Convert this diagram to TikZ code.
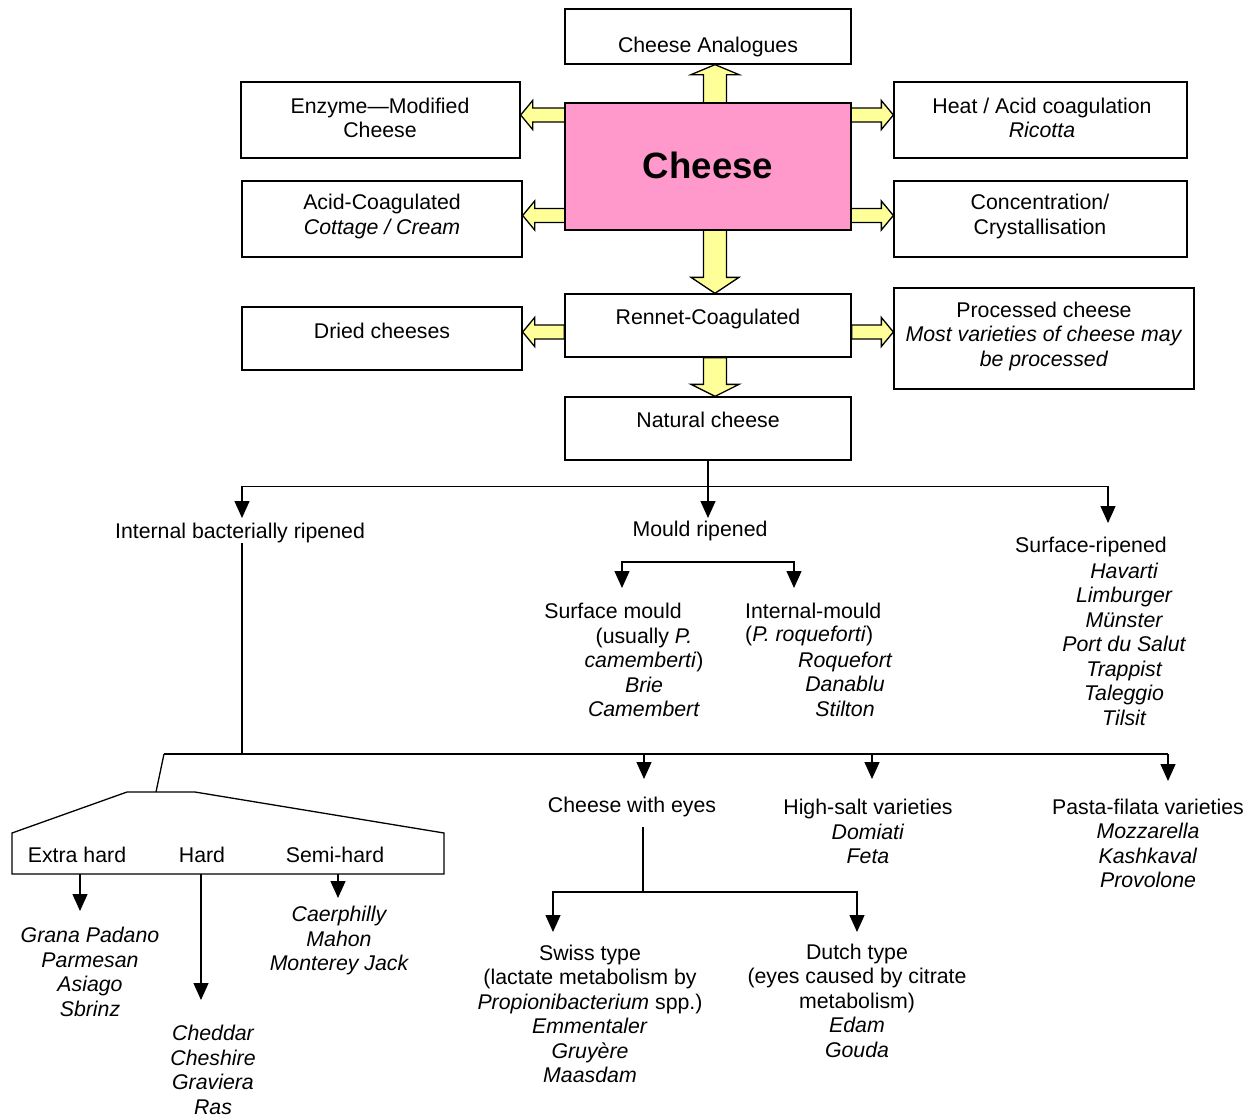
\documentclass[tikz,border=0pt]{standalone}
\usepackage{fontspec}
\setmainfont{Liberation Sans}
\usetikzlibrary{calc,arrows.meta}
\definecolor{ylw}{HTML}{FFFF99}
\definecolor{pnk}{HTML}{FF99CC}
% block arrow: #1 from, #2 to, #3 shaft half width, #4 head half width, #5 head length
\newcommand\blockarr[5]{%
  \path (#1) coordinate (ba-s) (#2) coordinate (ba-t);
  \path ($(ba-t)!#5!(ba-s)$) coordinate (ba-h);
  \draw[yarrow] ($(ba-s)!#3!90:(ba-t)$) -- ($(ba-h)!#3!90:(ba-t)$) -- ($(ba-h)!#4!90:(ba-t)$)
     -- (ba-t) -- ($(ba-h)!#4!-90:(ba-t)$) -- ($(ba-h)!#3!-90:(ba-t)$) -- ($(ba-s)!#3!-90:(ba-t)$) -- cycle;
}
\begin{document}
\begin{tikzpicture}[x=1pt,y=-1pt,
  ln/.style={line width=1.3pt},
  arr/.style={line width=1.3pt,-{Triangle[length=17pt,width=15pt]}},
  box/.style={draw,line width=1.3pt,fill=white,inner sep=0pt},
  txt/.style={inner sep=0pt,align=center,yshift=-2pt,font=\fontsize{21.3}{24.5}\selectfont},
  itxt/.style={txt,font=\fontsize{21.3}{24.5}\selectfont\itshape},
  yarrow/.style={draw,line width=1.3pt,fill=ylw,line join=miter}]
\useasboundingbox (0,0) rectangle (1257,1119);

% ---------- boxes (positions) ----------
\coordinate (ax) at (715,0);
\coordinate (r1) at (0,115);
\coordinate (r2) at (0,215.5);
\coordinate (r3) at (0,332);

\path
  node[box,minimum width=286pt,minimum height=55pt] (ana) at (708,36.5) {}
  node[box,minimum width=279pt,minimum height=76pt] (enz) at (380.5,120) {}
  node[box,minimum width=293pt,minimum height=76pt] (heat) at (1040.5,120) {}
  node[box,minimum width=280pt,minimum height=76pt] (acid) at (382,219) {}
  node[box,minimum width=293pt,minimum height=76pt] (conc) at (1040.5,219) {}
  node[box,minimum width=286pt,minimum height=63pt] (ren) at (708,325.5) {}
  node[box,minimum width=280pt,minimum height=63pt] (dried) at (382,338.5) {}
  node[box,minimum width=300pt,minimum height=101pt] (proc) at (1044,338.5) {}
  node[box,minimum width=286pt,minimum height=63pt] (nat) at (708,428.5) {};

% ---------- yellow block arrows ----------
\blockarr{$(ren.north -| ax)+(0,-64)$}{ana.south -| ax}{11.5pt}{24pt}{10pt}
\blockarr{$(ren.north -| ax)+(0,-64)$}{ren.north -| ax}{11.5pt}{24pt}{16pt}
\blockarr{ren.south -| ax}{nat.north -| ax}{11.5pt}{24pt}{12pt}
\blockarr{$(enz.east |- r1)+(45,0)$}{enz.east |- r1}{7pt}{14.5pt}{12pt}
\blockarr{$(heat.west |- r1)+(-43,0)$}{heat.west |- r1}{7pt}{14.5pt}{12pt}
\blockarr{$(acid.east |- r2)+(43,0)$}{acid.east |- r2}{7pt}{14.5pt}{12pt}
\blockarr{$(conc.west |- r2)+(-43,0)$}{conc.west |- r2}{7pt}{14.5pt}{12pt}
\blockarr{ren.west |- r3}{dried.east |- r3}{7pt}{14.5pt}{12pt}
\blockarr{ren.east |- r3}{proc.west |- r3}{7pt}{14.5pt}{12pt}

% boxes drawn again on top of arrow bases
\node[box,minimum width=286pt,minimum height=127pt,fill=pnk] (cheese) at (708,166.5) {};
\node[box,minimum width=286pt,minimum height=63pt] at (ren) {};
\node[box,minimum width=286pt,minimum height=63pt] at (nat) {};

% ---------- box texts ----------
\node[txt] (anat) at (708,45) {Cheese Analogues};
\node[txt] (enzt) at (380,116) {Enzyme—Modified\\Cheese};
\node[txt,font=\fontsize{36.6}{40}\selectfont\bfseries] (cht) at (708,163) {Cheese};
\node[txt] (heatt) at (1042,116) {Heat / Acid coagulation\\\textit{Ricotta}};
\node[txt] (acidt) at (382,214.5) {Acid-Coagulated\\\textit{Cottage / Cream}};
\node[txt] (conct) at (1040,214.5) {Concentration/\\Crystallisation};
\node[txt] (rent) at (708,317) {Rennet-Coagulated};
\node[txt] (driedt) at (382,329) {Dried cheeses};
\node[txt] (proct) at (1044,334) {Processed cheese\\\textit{Most varieties of cheese may}\\\textit{be processed}};
\node[txt] (natt) at (708,418) {Natural cheese};

% ---------- first level of tree ----------
\node[txt] (ibr) at (240,531) {Internal bacterially ripened};
\node[txt] (mr) at (700,529) {Mould ripened};
\node[txt] (sr) at (1091,545) {Surface-ripened};
\node[itxt] (srl) at (1124,642) {Havarti\\Limburger\\Münster\\Port du Salut\\Trappist\\Taleggio\\Tilsit};

\coordinate (ibrtip) at (242,518);
\coordinate (mrtip) at (708,518);
\coordinate (srtip) at (1108,523);
\draw[ln] (nat.south) -- ++(0,26) coordinate (nbar);
\draw[arr] (nbar) -| (ibrtip);
\draw[arr] (nbar) -- (mrtip);
\draw[arr] (nbar) -| (srtip);

% ---------- mould ripened ----------
\coordinate (mbar) at (708,562);
\coordinate (smtip) at (622,588);
\coordinate (imtip) at (794,588);
\draw[arr] (mbar) -| (smtip);
\draw[arr] (mbar) -| (imtip);
\node[txt] (smt) at (613,609) {Surface mould};
\node[txt] (smd) at (644,670.5) {(usually \textit{P.}\\\textit{camemberti})\\\textit{Brie}\\\textit{Camembert}};
\node[txt,anchor=west] (imt) at (745,609) {Internal-mould};
\node[txt,anchor=west] (imp) at (745,634) {(\textit{P. roqueforti})};
\node[itxt] (imd) at (845,682) {Roquefort\\Danablu\\Stilton};

% ---------- internal bacterially ripened ----------
\coordinate (barL) at (164,754);
\coordinate (barR) at (1168,754);
\draw[ln] (ibr.south -| ibrtip) -- (ibrtip |- barL);
\draw[ln] (barL) -- (barR);
\coordinate (tz) at (156,792);
\draw[ln] (barL) -- (tz);
\draw[ln] (127,792) -- (195,792) -- (444,833) -- (444,874) -- (12,874) -- (12,833) -- cycle;
\node[txt] (exh) at (77,853) {Extra hard};
\node[txt] (hard) at (202,853) {Hard};
\node[txt] (semi) at (335,853) {Semi-hard};
\coordinate (exb) at (80,874);
\coordinate (hdb) at (201,874);
\coordinate (smb) at (338,874);
\coordinate (extip) at (80,911);
\coordinate (hdtip) at (201,1000);
\coordinate (smtip2) at (338,898);
\draw[arr] (exb) -- (extip);
\draw[arr] (hdb) -- (hdtip);
\draw[arr] (smb) -- (smtip2);
\node[itxt] (exl) at (90,970) {Grana Padano\\Parmesan\\Asiago\\Sbrinz};
\node[itxt] (hdl) at (213,1068) {Cheddar\\Cheshire\\Graviera\\Ras};
\node[itxt] (sml) at (339,938.5) {Caerphilly\\Mahon\\Monterey Jack};

\coordinate (cwtip) at (644,779);
\coordinate (hstip) at (872,779);
\coordinate (pftip) at (1168,781);
\draw[arr] (cwtip |- barL) -- (cwtip);
\draw[arr] (hstip |- barL) -- (hstip);
\draw[arr] (barR) -- (pftip);
\node[txt] (cwe) at (632,805) {Cheese with eyes};
\node[txt] (hs) at (868,829.5) {High-salt varieties\\\textit{Domiati}\\\textit{Feta}};
\node[txt] (pf) at (1148,841.5) {Pasta-filata varieties\\\textit{Mozzarella}\\\textit{Kashkaval}\\\textit{Provolone}};

% ---------- cheese with eyes ----------
\coordinate (ebar) at (643,892);
\coordinate (swtip) at (553,932);
\coordinate (dttip) at (857,932);
\draw[ln] (cwe.south -| ebar) ++(0,10) -- (ebar);
\draw[arr] (ebar) -| (swtip);
\draw[arr] (ebar) -| (dttip);
\node[txt] (swiss) at (590,1012) {Swiss type\\(lactate metabolism by\\\textit{Propionibacterium} spp.)\\\textit{Emmentaler}\\\textit{Gruyère}\\\textit{Maasdam}};
\node[txt] (dutch) at (857,998.5) {Dutch type\\(eyes caused by citrate\\metabolism)\\\textit{Edam}\\\textit{Gouda}};
\end{tikzpicture}
\end{document}
